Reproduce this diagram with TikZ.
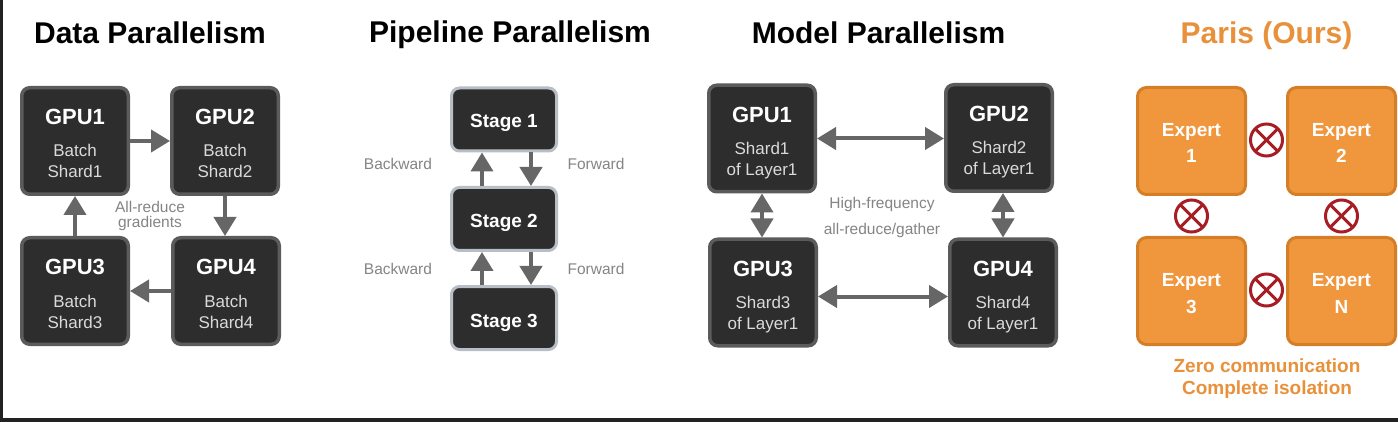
\documentclass[tikz,border=0pt]{standalone}
\usepackage{fontspec}
\setmainfont{Liberation Sans}
\usetikzlibrary{arrows.meta}
\definecolor{gpufill}{HTML}{2D2D2D}
\definecolor{gpuborder}{HTML}{5B5B5B}
\definecolor{stageborder}{HTML}{B8BEC6}
\definecolor{arrowc}{HTML}{666666}
\definecolor{labelc}{HTML}{858585}
\definecolor{subtext}{HTML}{DADADA}
\definecolor{orfill}{HTML}{F0963C}
\definecolor{orborder}{HTML}{D47E28}
\definecolor{ortext}{HTML}{E8913A}
\definecolor{xred}{HTML}{A61E24}
\definecolor{framec}{HTML}{222222}
\tikzset{
  gpu/.style={draw=gpuborder, line width=3.5pt, fill=gpufill, rounded corners=8pt,
    minimum width=106.5pt, minimum height=106.5pt, inner sep=0pt},
  stagebox/.style={draw=stageborder, line width=3pt, fill=gpufill, rounded corners=8pt,
    minimum width=105pt, minimum height=63pt, inner sep=0pt},
  expertbox/.style={draw=orborder, line width=3pt, fill=orfill, rounded corners=9pt,
    minimum width=108pt, minimum height=107pt, inner sep=0pt},
  title/.style={anchor=base, inner sep=0pt, font=\fontsize{30}{30}\selectfont\bfseries},
  gtitle/.style={anchor=base, inner sep=0pt, text=white, font=\fontsize{22}{22}\selectfont\bfseries},
  gsub/.style={anchor=base, inner sep=0pt, text=subtext, font=\fontsize{17}{17}\selectfont},
  stagetxt/.style={anchor=base, inner sep=0pt, text=white, font=\fontsize{19}{19}\selectfont\bfseries},
  lbl/.style={inner sep=0pt, text=labelc, font=\fontsize{15.5}{15.5}\selectfont},
  exptxt/.style={anchor=base, inner sep=0pt, text=white, font=\fontsize{19}{19}\selectfont\bfseries},
  ortxt/.style={anchor=base, inner sep=0pt, text=ortext, font=\fontsize{19}{19}\selectfont\bfseries},
  flow/.style={draw=arrowc, line width=4pt, -{Triangle[length=19pt,width=22pt]}},
  dflow/.style={draw=arrowc, line width=4pt, {Triangle[length=19pt,width=22pt]}-{Triangle[length=19pt,width=22pt]}},
  nocomm/.style={circle, draw=xred, fill=white, line width=3pt, minimum size=32pt, inner sep=0pt, outer sep=0pt},
}
\newcommand{\mkgpu}[6]{%
  \node[gpu] (#1) at (#2,#3) {};
  \node[gtitle] (#1-t) at ([yshift=16pt]#1.center) {#4};
  \node[gsub] (#1-a) at ([yshift=-16pt]#1.center) {#5};
  \node[gsub] (#1-b) at ([yshift=-37pt]#1.center) {#6};}
\newcommand{\mkexpert}[4]{%
  \node[expertbox] (#1) at (#2,#3) {};
  \node[exptxt] (#1-t) at ([yshift=4pt]#1.center) {Expert};
  \node[exptxt] (#1-n) at ([yshift=-22pt]#1.center) {#4};}
\begin{document}
\begin{tikzpicture}[x=1pt,y=-1pt]
\useasboundingbox (0,0) rectangle (1398,422);
\fill[white] (0,0) rectangle (1398,422);
\fill[framec] (0,0) rectangle (2.5,422);
\fill[framec] (0,418) rectangle (1398,422);

% ---------- Data Parallelism ----------
\node[title] (t1) at (150,44) {Data Parallelism};
\mkgpu{d1}{75}{141}{GPU1}{Batch}{Shard1}
\mkgpu{d2}{225}{141}{GPU2}{Batch}{Shard2}
\mkgpu{d3}{75}{291}{GPU3}{Batch}{Shard3}
\mkgpu{d4}{226}{291}{GPU4}{Batch}{Shard4}
\draw[flow] (d1.east) -- (d2.west);
\draw[flow] (d2.south) -- (d2.south |- d4.north);
\draw[flow] (d4.west) -- (d4.west -| d3.east);
\draw[flow] (d3.north) -- (d1.south);
\node[lbl] (dl1) at (150,207) {All-reduce};
\node[lbl] (dl2) at (150,223) {gradients};

% ---------- Pipeline Parallelism ----------
\node[title] (t2) at (510,43) {Pipeline Parallelism};
\node[stagebox] (s1) at (504,119.5) {};
\node[stagebox] (s2) at (504,219) {};
\node[stagebox] (s3) at (504,318) {};
\node[stagetxt] (s1t) at ([yshift=-8pt]s1.center) {Stage 1};
\node[stagetxt] (s2t) at ([yshift=-9pt]s2.center) {Stage 2};
\node[stagetxt] (s3t) at ([yshift=-9pt]s3.center) {Stage 3};
\draw[flow] ([xshift=-22pt]s2.north) -- ([xshift=-22pt]s1.south);
\draw[flow] ([xshift=27pt]s1.south) -- ([xshift=27pt]s2.north);
\draw[flow] ([xshift=-22pt]s3.north) -- ([xshift=-22pt]s2.south);
\draw[flow] ([xshift=27pt]s2.south) -- ([xshift=27pt]s3.north);
\node[lbl] (pb1) at (398,164) {Backward};
\node[lbl] (pf1) at (596,164) {Forward};
\node[lbl] (pb2) at (398,269) {Backward};
\node[lbl] (pf2) at (596,269) {Forward};

% ---------- Model Parallelism ----------
\node[title] (t3) at (878.5,44) {Model Parallelism};
\mkgpu{m1}{762}{138.5}{GPU1}{Shard1}{of Layer1}
\mkgpu{m2}{999}{138}{GPU2}{Shard2}{of Layer1}
\mkgpu{m3}{763}{292.5}{GPU3}{Shard3}{of Layer1}
\mkgpu{m4}{1003}{292.5}{GPU4}{Shard4}{of Layer1}
\draw[dflow] (m1.east) -- (m1.east -| m2.west);
\draw[dflow] ([yshift=-4pt]m3.east) -- ([yshift=-4pt]m4.west);
\draw[dflow] (m1.south) -- (m1.south |- m3.north);
\draw[dflow] ([xshift=4pt]m2.south) -- ([xshift=4pt]m2.south |- m4.north);
\node[lbl] (ml1) at (882,204) {High-frequency};
\node[lbl] (ml2) at (882,230) {all-reduce/gather};

% ---------- Paris (Ours) ----------
\node[title, text=ortext] (t4) at (1266.5,44) {Paris (Ours)};
\mkexpert{e1}{1191.5}{141}{1}
\mkexpert{e2}{1341.5}{141}{2}
\mkexpert{e3}{1191.5}{291}{3}
\mkexpert{e4}{1341.5}{291}{N}
\foreach \n/\px/\py in {x12/1266.5/140, x13/1191.5/216, x24/1341.5/216, x34/1266.5/290}{
  \node[nocomm] (\n) at (\px,\py) {};
  \draw[xred, line width=3pt] (\n.45) -- (\n.225);
  \draw[xred, line width=3pt] (\n.135) -- (\n.315);
}
\node[ortxt] (z1) at (1267,372) {Zero communication};
\node[ortxt] (z2) at (1267,394) {Complete isolation};
\end{tikzpicture}
\end{document}
